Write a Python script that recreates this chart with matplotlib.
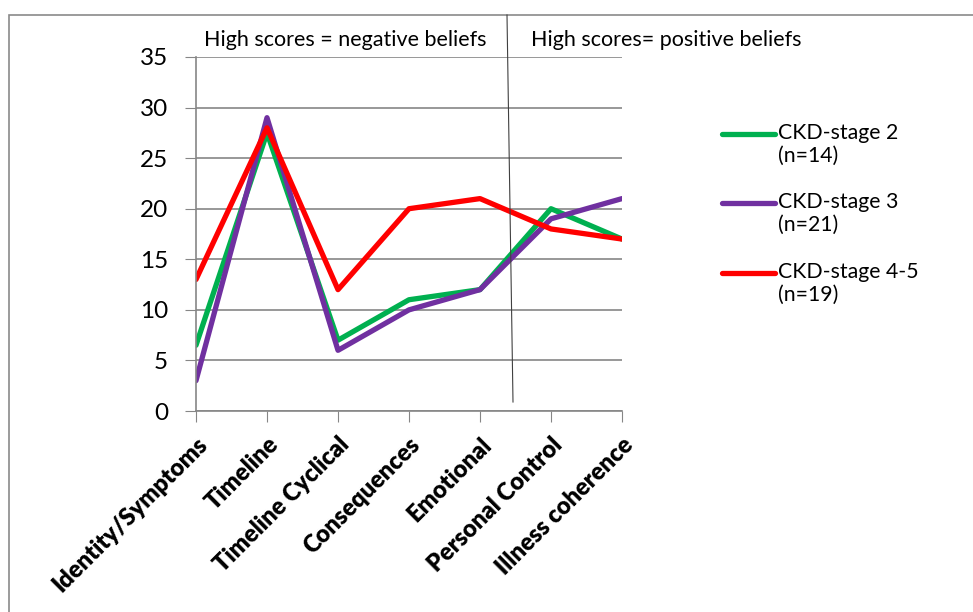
import matplotlib
matplotlib.use("Agg")
import matplotlib.pyplot as plt
from matplotlib.lines import Line2D
from matplotlib.patches import Rectangle

categories = ["Identity/Symptoms", "Timeline", "Timeline Cyclical", "Consequences",
              "Emotional", "Personal Control", "Illness coherence"]
stage2 = [6.5, 27.5, 7, 11, 12, 20, 17]
stage3 = [3, 29, 6, 10, 12, 19, 21]
stage45 = [13, 28, 12, 20, 21, 18, 17]
series_labels = ["CKD-stage 2\n(n=14)", "CKD-stage 3\n(n=21)", "CKD-stage 4-5\n(n=19)"]
colors = ["#00B050", "#7030A0", "#FF0000"]
yticks = [0, 5, 10, 15, 20, 25, 30, 35]

plt.rcParams['font.family'] = ['Lato', 'DejaVu Sans']

W, H = 973, 612
fig = plt.figure(figsize=(W/100, H/100), dpi=100)
fig.patch.set_facecolor("white")

# outer frame
fig.add_artist(Rectangle((9/W, -0.1), 1.2, 1 - 15/H + 0.1, transform=fig.transFigure,
                         fill=False, edgecolor="#8a8a8a", linewidth=1.2))

ax = fig.add_axes([196/W, 1 - 411/H, (622-196)/W, (411-57)/H])
x = list(range(len(categories)))
for vals, c in zip([stage2, stage3, stage45], colors):
    ax.plot(x, vals, color=c, linewidth=3.8, solid_capstyle="round", solid_joinstyle="round")

ax.set_xlim(0, 6)
ax.set_ylim(0, 35)
ax.set_yticks(yticks)
ax.set_xticks(x)
ax.set_xticklabels(categories, rotation=45, ha="right", rotation_mode="anchor",
                   fontsize=17, fontweight="heavy")
ax.tick_params(axis="y", labelsize=17.5, length=8, color="#868686", pad=12)
ax.tick_params(axis="x", length=8, color="#868686", pad=8)
ax.grid(axis="y", color="#868686", linewidth=1.2)
ax.set_axisbelow(True)
for s in ["top", "right"]:
    ax.spines[s].set_visible(False)
for s in ["left", "bottom"]:
    ax.spines[s].set_color("#868686")
    ax.spines[s].set_linewidth(1.2)

# annotations
fig.text(345/W, 1 - 40/H, "High scores = negative beliefs", ha="center", va="center", fontsize=15.5)
fig.text(531/W, 1 - 40/H, "High scores= positive beliefs", ha="left", va="center", fontsize=15.5)
fig.add_artist(Line2D([507/W, 513/W], [1 - 15/H, 1 - 402/H], transform=fig.transFigure,
                      color="#404040", linewidth=0.8))

# legend (drawn manually so the key line sits beside the first text line)
for i, (lab, c) in enumerate(zip(series_labels, colors)):
    yc = 1 - (134 + 69.5 * i) / H
    fig.add_artist(Line2D([722/W, 775/W], [yc, yc], transform=fig.transFigure,
                          color=c, linewidth=3.8, solid_capstyle="round"))
    fig.text(778/W, yc + 11/H, lab, ha="left", va="top", fontsize=15.3, linespacing=1.15)

fig.savefig("out.png", dpi=100)
